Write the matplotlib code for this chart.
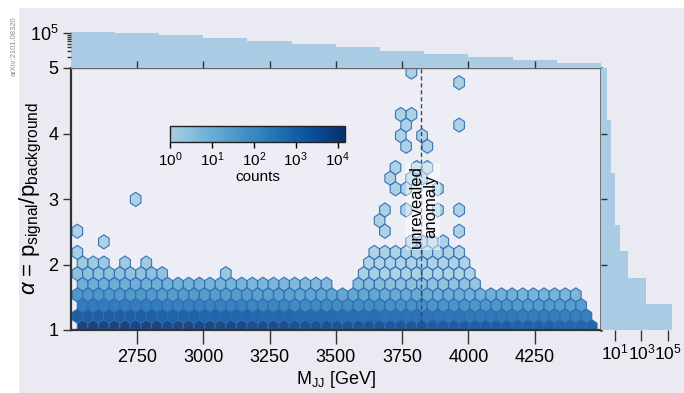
import numpy as np
import matplotlib
matplotlib.use("Agg")
import matplotlib.pyplot as plt
from matplotlib.colors import LogNorm, LinearSegmentedColormap
from matplotlib.patches import Rectangle
from matplotlib.ticker import NullFormatter, NullLocator
from matplotlib.cm import ScalarMappable

plt.rcParams['font.family'] = ['Liberation Sans', 'DejaVu Sans']
plt.rcParams['mathtext.fontset'] = 'custom'
plt.rcParams['mathtext.rm'] = 'Liberation Sans'
plt.rcParams['mathtext.it'] = 'Liberation Sans:italic'
plt.rcParams['mathtext.bf'] = 'Liberation Sans:bold'

# ---------------- data ----------------
# marginal M_JJ histogram (top)
mjj_edges = [2500, 2666.7, 2833.3, 3000, 3166.7, 3333.3, 3500, 3666.7,
             3833.3, 4000, 4166.7, 4333.3, 4500]
mjj_counts = [1.12e5, 1.02e5, 8.7e4, 7.4e4, 6.1e4, 4.9e4, 3.9e4, 3.1e4,
              2.5e4, 2.0e4, 1.6e4, 1.3e4]

# marginal alpha histogram (right)
alpha_edges = [1.0, 1.4, 1.8, 2.2, 2.6, 3.4, 4.2, 4.8, 5.0]
alpha_counts = [2.1e5, 2180, 100, 26, 10.5, 5.5, 2.7, 2.5]

# hexbin band: top occupied hex row for each half-column (M_JJ = 2525 + 20*m)
band_top_row = [7, 6, 5, 6, 5, 6, 5, 4, 5, 6, 5, 4, 5, 6, 5, 4, 5, 4, 3, 4,
                3, 4, 3, 4,
                3, 4, 3, 4, 5, 4, 3, 4, 3, 4, 3, 4, 3, 4, 3, 4, 3, 4, 3, 4,
                3, 4, 3, 4, 3,
                2, 3, 2, 3, 4, 5, 6, 7, 6, 7, 6, 7, 6, 7, 8, 7, 8, 7, 8, 7,
                8, 7, 6, 7, 6, 5, 4,
                3, 2, 3, 2, 3, 2, 3, 2, 3, 2, 3, 2, 3, 2, 3, 2, 3, 2, 3, 2,
                1, 0]
# counts per hex row at the low-mass end (scaled down with the M_JJ spectrum)
row_counts = [14000, 2500, 400, 70, 15, 4, 2, 1.5, 1.2, 1, 1, 1]

# isolated hexes (single events)
iso_mjj = [2525, 2625, 2745,
           3785, 3965, 3745, 3785, 3765, 3965, 3745, 3825, 3765, 3845,
           3725, 3805, 3845, 3705, 3785, 3825, 3725, 3765, 3885,
           3685, 3765, 3885, 3965, 3665, 3685, 3965]
iso_alpha = [2.51, 2.35, 3.00,
             4.94, 4.78, 4.29, 4.29, 4.13, 4.13, 3.97, 3.97, 3.80, 3.80,
             3.48, 3.48, 3.48, 3.32, 3.32, 3.32, 3.16, 3.16, 3.16,
             2.83, 2.83, 2.83, 2.83, 2.67, 2.51, 2.51]

xticks = [2750, 3000, 3250, 3500, 3750, 4000, 4250]
anomaly_mjj = 3823

# ---------------- build events ----------------
ev_x, ev_y, ev_w = [], [], []
for m, ktop in enumerate(band_top_row):
    x = 2525 + 20 * m
    b = min(np.searchsorted(mjj_edges, x) - 1, len(mjj_counts) - 1)
    scale = mjj_counts[b] / mjj_counts[0]
    for k in range(1 - m % 2, ktop + 1, 2):
        ev_x.append(x)
        ev_y.append(1.05 + 0.162 * k)
        ev_w.append(max(row_counts[k] * scale, 1.0))
for x, y in zip(iso_mjj, iso_alpha):
    ev_x.append(x); ev_y.append(y); ev_w.append(1.0)

# ---------------- figure ----------------
W, H = 684, 393
fig = plt.figure(figsize=(W / 100, H / 100), dpi=100)
fig.patch.set_facecolor('white')
BG = '#EAEAF3'
fig.add_artist(Rectangle((19 / W, 0), 1 - 19 / W, 1 - 8 / H,
                         transform=fig.transFigure, facecolor=BG,
                         edgecolor='none', zorder=-10))
fig.text(14 / W, 1 - 46 / H, 'arXiv:2101.08320', rotation=90, fontsize=5.5,
         color='#8a8a8a', ha='center', va='center')

L, R, T, B = 70.7, 601, 68, 330
ax = fig.add_axes([L / W, 1 - B / H, (R - L) / W, (B - T) / H])
ax.set_facecolor('#EDEDF6')

blues = plt.get_cmap('Blues')
cmap = LinearSegmentedColormap.from_list('tb', blues(np.linspace(0.35, 1.0, 256)))
norm = LogNorm(1, 1.5e4)

hb = ax.hexbin(ev_x, ev_y, C=ev_w, reduce_C_function=np.sum,
               gridsize=(51, 12), extent=(2505, 4545, 1.05, 1.05 + 12 * 0.324),
               norm=norm, cmap=cmap, edgecolors='#2f6db5',
               linewidths=0.85, alpha=0.9, zorder=2)
ax.set_xlim(2500, 4500)
ax.set_ylim(1, 5)
ax.axvline(anomaly_mjj, color='#444444', ls=(0, (3, 2)), lw=1.0, zorder=3)
ax.text(3829, 2.89, 'unrevealed\nanomaly', rotation=90, ha='center', va='center',
        fontsize=12, linespacing=0.95, zorder=4,
        bbox=dict(facecolor='white', alpha=0.45, edgecolor='none', pad=1.5))

ax.set_xticks(xticks)
ax.set_yticks([1, 2, 3, 4, 5])
ax.tick_params(axis='x', direction='out', length=10, width=1, pad=3.5,
               labelsize=13, color='#333333')
ax.tick_params(axis='y', direction='out', length=5.8, width=1, pad=3,
               labelsize=13, color='#333333')
for s in ['left', 'bottom']:
    ax.spines[s].set_color('#333333'); ax.spines[s].set_linewidth(1.6)
ax.spines['top'].set_color('#666666'); ax.spines['top'].set_linewidth(1.0)
ax.spines['right'].set_color('#666666'); ax.spines['right'].set_linewidth(2.0)
ax.set_xlabel(r'M$_{\mathrm{JJ}}$ [GeV]', fontsize=13, labelpad=2)
ax.set_ylabel(r'$\alpha$ = p$_{\mathrm{signal}}$/p$_{\mathrm{background}}$',
              fontsize=16, labelpad=3)

# colorbar
cax = fig.add_axes([170 / W, 1 - 141.7 / H, 175 / W, 16 / H])
cb = fig.colorbar(ScalarMappable(norm=norm, cmap=cmap), cax=cax,
                  orientation='horizontal')
cb.set_ticks([1, 10, 100, 1e3, 1e4])
cb.set_ticklabels([r'$10^0$', r'$10^1$', r'$10^2$', r'$10^3$', r'$10^4$'])
cb.outline.set_edgecolor('#222222'); cb.outline.set_linewidth(1.0)
cax.tick_params(which='major', length=4.5, width=1, labelsize=11, pad=1.5)
cax.tick_params(which='minor', length=2.5, width=0.8)
cb.set_label('counts', fontsize=11, labelpad=1)

HIST = '#a9cbe4'
# top histogram
mjj_centers = [(a + b) / 2 for a, b in zip(mjj_edges[:-1], mjj_edges[1:])]
axt = fig.add_axes([L / W, 1 - T / H, (R - L) / W, 39.5 / H])
axt.hist(mjj_centers, bins=mjj_edges, weights=mjj_counts, histtype='stepfilled',
         color=HIST, log=True)
axt.set_yscale('log')
axt.set_xlim(2500, 4500)
axt.set_ylim(9.5e3, 1.4e5)
axt.set_facecolor('none')
for s in axt.spines.values():
    s.set_visible(False)
axt.set_xticks(xticks)
axt.tick_params(axis='x', direction='in', length=5, width=1, labelbottom=False,
                color='#333333')
axt.set_yticks([1e5])
axt.set_yticklabels([r'$10^5$'])
axt.yaxis.set_minor_formatter(NullFormatter())
axt.tick_params(axis='y', which='major', length=5.8, width=1, labelsize=13,
                pad=3, color='#333333')
axt.tick_params(axis='y', which='minor', length=3, width=1, color='#333333')

# right histogram
alpha_centers = [(a + b) / 2 for a, b in zip(alpha_edges[:-1], alpha_edges[1:])]
axr = fig.add_axes([R / W, 1 - B / H, (678 - R) / W, (B - T) / H])
axr.hist(alpha_centers, bins=alpha_edges, weights=alpha_counts,
         histtype='stepfilled', color=HIST, orientation='horizontal', log=True)
axr.set_xscale('log')
axr.set_xlim(0.9, 5.6e5)
axr.set_ylim(1, 5)
axr.set_facecolor('none')
for s in axr.spines.values():
    s.set_visible(False)
axr.set_yticks([2, 3, 4])
axr.tick_params(axis='y', direction='in', length=4.3, width=1, labelleft=False,
                color='#333333')
axr.set_xticks([10, 1e3, 1e5])
axr.set_xticklabels([r'$10^1$', r'$10^3$', r'$10^5$'])
axr.xaxis.set_minor_locator(NullLocator())
axr.tick_params(axis='x', direction='out', length=8, width=1, labelsize=12.5,
                pad=1, color='#333333')

fig.savefig('out.png', dpi=100)
